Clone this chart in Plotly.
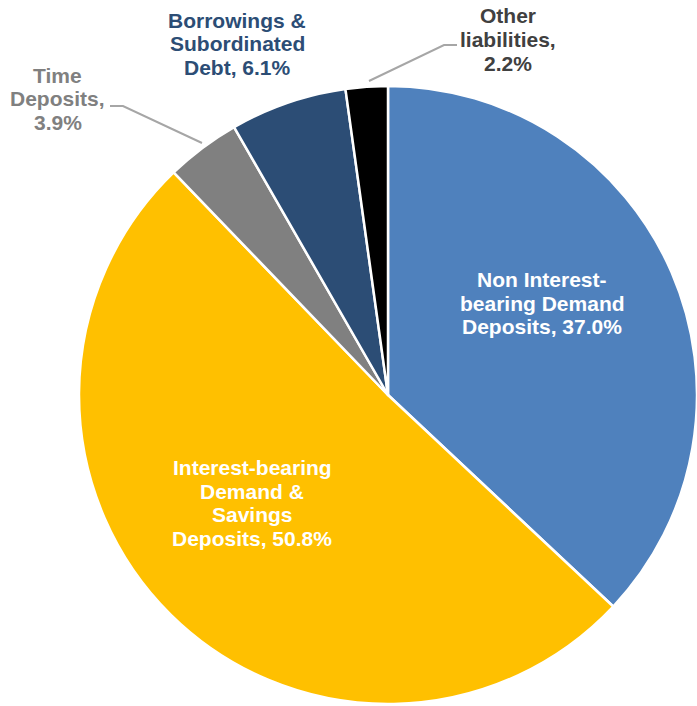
import plotly.graph_objects as go

categories = ["Non Interest-bearing Demand Deposits", "Interest-bearing Demand & Savings Deposits",
              "Time Deposits", "Borrowings & Subordinated Debt", "Other liabilities"]
values = [37.0, 50.8, 3.9, 6.1, 2.2]
colors = ["#4F81BD", "#FFC000", "#808080", "#2C4D75", "#000000"]

# label lines as shown on the chart
label_lines = [
    ["Non Interest-", "bearing Demand", "Deposits, 37.0%"],
    ["Interest-bearing", "Demand &", "Savings", "Deposits, 50.8%"],
    ["Time", "Deposits,", "3.9%"],
    ["Borrowings &", "Subordinated", "Debt, 6.1%"],
    ["Other", "liabilities,", "2.2%"],
]
label_colors = ["#FFFFFF", "#FFFFFF", "#808080", "#2C4D75", "#404040"]
# label centre (px) and first line centre y (px)
label_pos = [(542, 279.5), (252, 467.5), (58, 75), (237, 20), (508, 16)]
line_step = 23.6

W, H = 697, 706

def px(x):
    return x / W

def py(y):
    return 1 - y / H

fig = go.Figure(go.Pie(
    labels=categories, values=values, sort=False, direction="clockwise", rotation=0,
    marker=dict(colors=colors, line=dict(color="white", width=2.5)),
    textinfo="none", hoverinfo="label+percent", showlegend=False,
    domain=dict(x=[79 / W, 1.0], y=[py(704), py(86)]),
))

annotations = []
for lines, col, (cx, cy) in zip(label_lines, label_colors, label_pos):
    for i, t in enumerate(lines):
        annotations.append(dict(
            x=px(cx), y=py(cy + i * line_step), xref="paper", yref="paper",
            text=t, showarrow=False, xanchor="center", yanchor="middle",
            font=dict(family="Liberation Sans, Arial", size=21, color=col, weight="bold"),
        ))

leader = "#A6A6A6"
shapes = [
    dict(type="path", xref="paper", yref="paper",
         path=f"M {px(110)} {py(106)} L {px(123)} {py(106)} L {px(202)} {py(143)}",
         line=dict(color=leader, width=2)),
    dict(type="path", xref="paper", yref="paper",
         path=f"M {px(457)} {py(45)} L {px(444)} {py(45)} L {px(369)} {py(81)}",
         line=dict(color=leader, width=2)),
]

fig.update_layout(
    width=W, height=H, autosize=False,
    margin=dict(l=0, r=0, t=0, b=0),
    paper_bgcolor="white", plot_bgcolor="white",
    annotations=annotations, shapes=shapes,
    font=dict(family="Liberation Sans, Arial"),
)

fig.write_html("out.html", config={"displayModeBar": False},
               post_script="document.body.style.margin='0';document.body.style.overflow='hidden';")
